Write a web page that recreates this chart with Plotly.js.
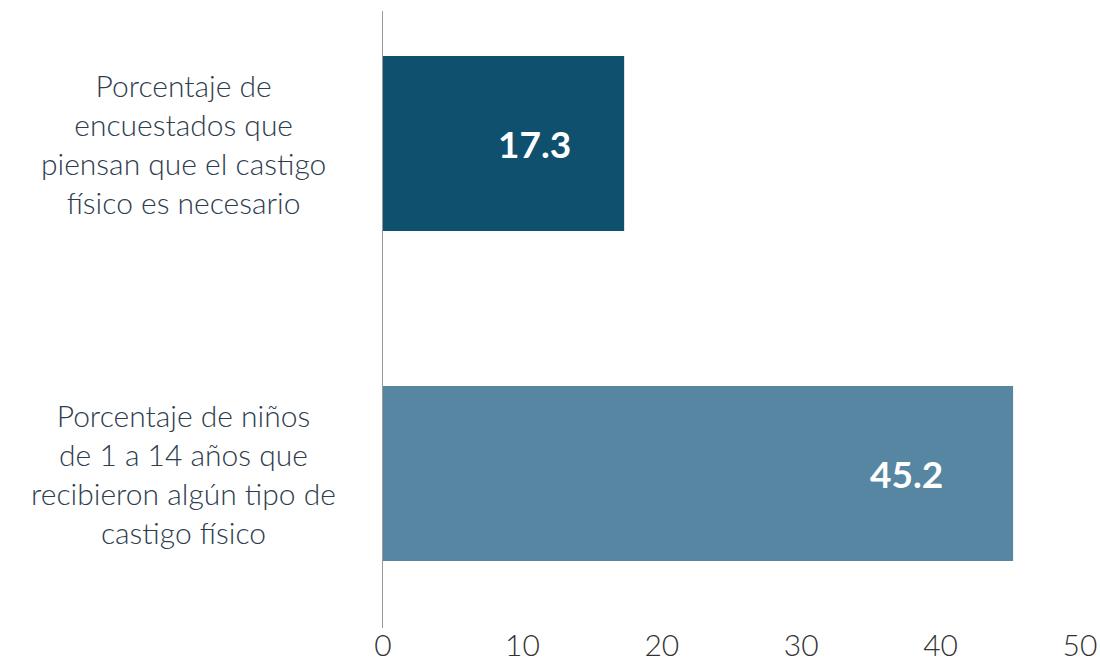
<!DOCTYPE html>
<html><head><meta charset="utf-8">
<script src="https://cdn.plot.ly/plotly-3.0.1.min.js"></script>
<style>html,body{margin:0;padding:0;background:#fff}#c{width:1100px;height:662px}</style>
</head><body><div id="c"></div>
<script>
const categories = [
  "Porcentaje de niños<br>de 1 a 14 años que<br>recibieron algún tipo de<br>castigo físico",
  "Porcentaje de<br>encuestados que<br>piensan que el castigo<br>físico es necesario"
];
const values = [45.2, 17.3];
const barColors = ["#5786A3", "#10506F"];
const valueLabels = ["45.2", "17.3"];
const tickVals = [0, 10, 20, 30, 40, 50];
const labelShift = [-68, -51];

const trace = {
  type: "bar", orientation: "h",
  x: values, y: categories,
  marker: {color: barColors},
  width: 0.53,
  hoverinfo: "none"
};

const annotations = [];
categories.forEach((c, i) => {
  annotations.push({
    xref: "paper", yref: "y", x: -0.286, y: c,
    text: c, showarrow: false, xanchor: "center", yanchor: "middle", align: "center",
    font: {family: "Lato, 'Open Sans', sans-serif", size: 30, color: "#2E3D4D", weight: 300}
  });
  annotations.push({
    xref: "x", yref: "y", x: values[i], y: c, xshift: labelShift[i],
    text: valueLabels[i], showarrow: false, xanchor: "right", yanchor: "middle",
    font: {family: "Lato, 'Open Sans', sans-serif", size: 37, color: "#ffffff", weight: 700}
  });
});

const layout = {
  width: 1100, height: 662,
  margin: {l: 383, r: 20, t: 11, b: 34},
  paper_bgcolor: "#fff", plot_bgcolor: "#fff",
  showlegend: false,
  xaxis: {
    range: [0, 50], tickvals: tickVals, showgrid: false, zeroline: false,
    showline: false, ticks: "", automargin: false, ticklabelstandoff: -3,
    tickfont: {family: "Lato, 'Open Sans', sans-serif", size: 30, color: "#333", weight: 300}
  },
  yaxis: {
    type: "category", categoryorder: "array", categoryarray: categories,
    range: [-0.468, 1.4015], showticklabels: false, showgrid: false, zeroline: false,
    showline: true, linecolor: "#999", linewidth: 1.5, ticks: "", automargin: false
  },
  annotations: annotations
};

Plotly.newPlot("c", [trace], layout, {displayModeBar: false, staticPlot: true});
</script></body></html>
